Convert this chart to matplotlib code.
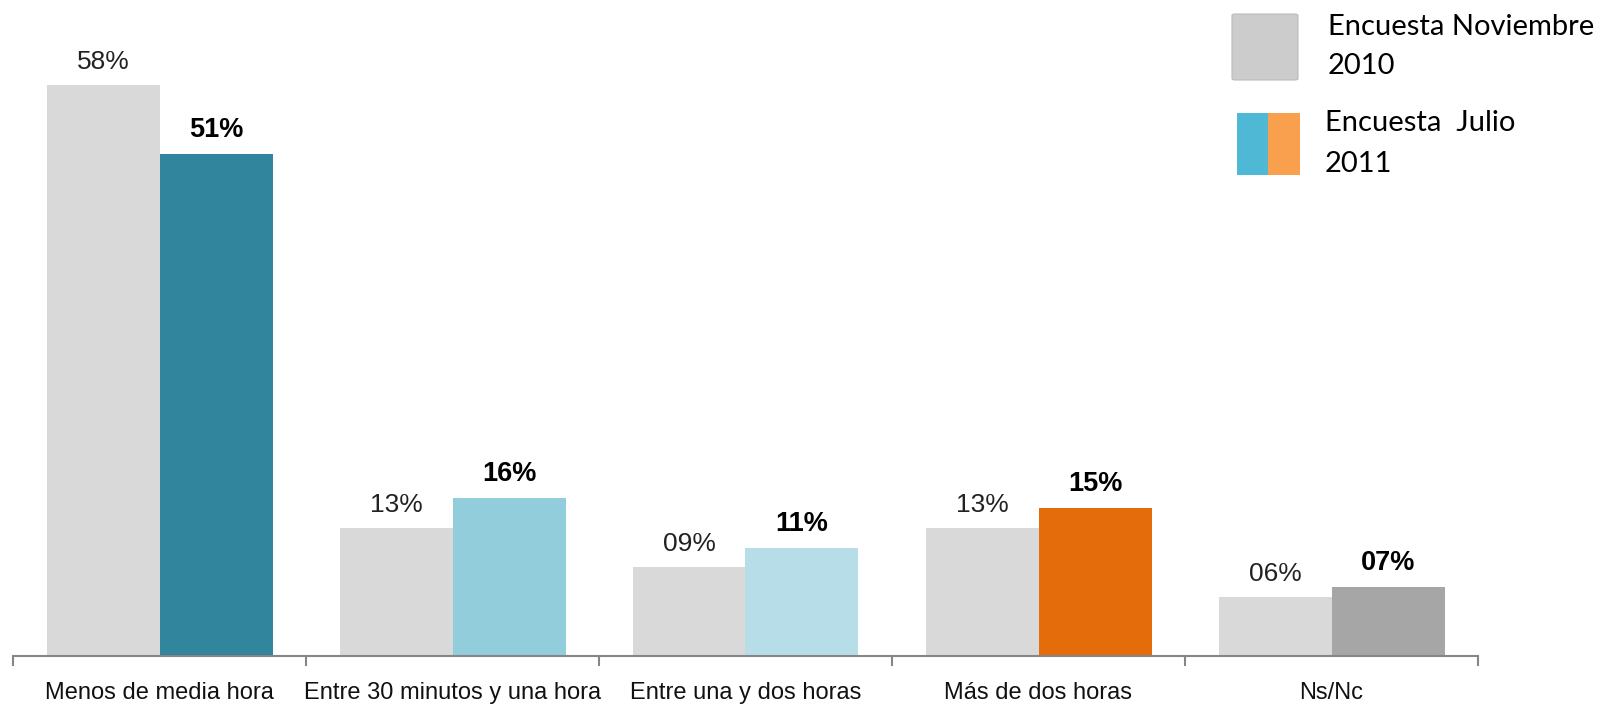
import matplotlib.pyplot as plt
from matplotlib.patches import Rectangle, FancyBboxPatch
import numpy as np

categories = ["Menos de media hora", "Entre 30 minutos y una hora",
              "Entre una y dos horas", "Más de dos horas", "Ns/Nc"]
nov_2010 = [58, 13, 9, 13, 6]
jul_2011 = [51, 16, 11, 15, 7]
nov_labels = ["58%", "13%", "09%", "13%", "06%"]
jul_labels = ["51%", "16%", "11%", "15%", "07%"]

nov_color = "#D9D9D9"
jul_colors = ["#31859C", "#92CDDC", "#B7DEE8", "#E46C0A", "#A6A6A6"]
axis_color = "#868686"

plt.rcParams["font.family"] = ["Liberation Sans", "DejaVu Sans"]

fig = plt.figure(figsize=(16.03, 7.07), dpi=100)
ax = fig.add_axes([13 / 1603, 51 / 707, 1465 / 1603, 656 / 707])

x = np.arange(len(categories))
bw = 113 / 293
ax.bar(x - bw / 2, nov_2010, bw, color=nov_color, zorder=2)
ax.bar(x + bw / 2, jul_2011, bw, color=jul_colors, zorder=2)

for xi, v, lab in zip(x, nov_2010, nov_labels):
    ax.annotate(lab, (xi - bw / 2, v), xytext=(0, 8), textcoords="offset points",
                ha="center", va="bottom", fontsize=19, color="#222222")
for xi, v, lab in zip(x, jul_2011, jul_labels):
    ax.annotate(lab, (xi + bw / 2, v), xytext=(0, 8), textcoords="offset points",
                ha="center", va="bottom", fontsize=19.5, fontweight="bold")

ax.set_xlim(-0.5, len(categories) - 0.5)
ax.set_ylim(0, 66.6)
for s in ["top", "right", "left"]:
    ax.spines[s].set_visible(False)
ax.spines["bottom"].set_color(axis_color)
ax.spines["bottom"].set_linewidth(1.5)
ax.set_yticks([])
ax.set_xticks(np.arange(-0.5, len(categories)), minor=False)
ax.set_xticklabels([])
ax.tick_params(axis="x", length=7, width=1.5, color=axis_color, direction="out")
for xi, c in zip(x, categories):
    ax.text(xi, -3.75, c, ha="center", va="center", fontsize=17, color="#111111",
            transform=ax.transData, clip_on=False)

# legend drawn by hand in figure pixels
W, H = 1603, 707
def fx(px):
    return px / W
def fy(py):
    return 1 - py / H

fig.patches.append(FancyBboxPatch((fx(1232), fy(80)), fx(66), 66 / H,
                                  boxstyle="round,pad=0,rounding_size=0.002",
                                  transform=fig.transFigure, facecolor="#CCCCCC",
                                  edgecolor="#BBBBBB", linewidth=0.8))
fig.patches.append(Rectangle((fx(1237), fy(175)), fx(31), 62 / H,
                             transform=fig.transFigure, facecolor="#4FB8D4",
                             edgecolor="none"))
fig.patches.append(Rectangle((fx(1268), fy(175)), fx(32), 62 / H,
                             transform=fig.transFigure, facecolor="#F9A04E",
                             edgecolor="none"))
leg_font = ["Lato", "DejaVu Sans"]
fig.text(fx(1328), fy(35), "Encuesta Noviembre", fontsize=21, family=leg_font, va="baseline")
fig.text(fx(1328), fy(74), "2010", fontsize=21, family=leg_font, va="baseline")
fig.text(fx(1325), fy(131), "Encuesta  Julio", fontsize=21, family=leg_font, va="baseline")
fig.text(fx(1325), fy(172), "2011", fontsize=21, family=leg_font, va="baseline")

fig.savefig("out.png", dpi=100)
